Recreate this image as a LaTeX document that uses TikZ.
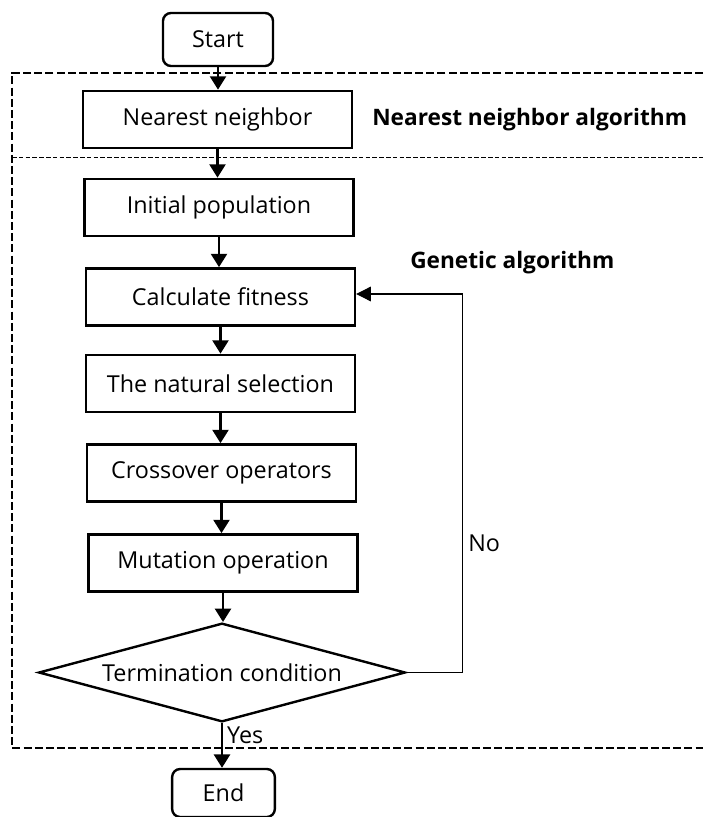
\documentclass[tikz,border=0pt]{standalone}
\usepackage{fontspec}
\setmainfont{Open Sans}
\usetikzlibrary{shapes.geometric,arrows.meta,calc}
\tikzset{
    procbox/.style  = {rectangle, draw=black, line width=1.8pt, minimum width=201.75pt,
                       minimum height=43pt, inner sep=0pt, font=\fontsize{17.5pt}{20pt}\selectfont},
    termbox/.style  = {procbox, rounded corners=6pt},
    decision/.style = {diamond, aspect=3.7, draw=black, line width=1.8pt, minimum width=275pt,
                       minimum height=74pt, inner sep=0pt, font=\fontsize{17.5pt}{20pt}\selectfont},
    flow/.style     = {-{Triangle[length=10pt,width=12pt]}, line width=1.8pt},
    backflow/.style = {-{Triangle[length=11pt,width=11pt]}, line width=0.8pt},
    grouplabel/.style = {font=\fontsize{17pt}{20pt}\selectfont\bfseries, inner sep=0pt},
    smalllabel/.style = {font=\fontsize{17.5pt}{20pt}\selectfont, inner sep=0pt}
}
\begin{document}
\begin{tikzpicture}[x=0.75pt, y=-0.75pt]
        \useasboundingbox (0,0) rectangle (703,817);

        % Group frames
        \draw[line width=1.5pt, dash pattern=on 6pt off 2.4pt] (703,73) -- (12,73) -- (12,748) -- (703,748);
        \draw[line width=0.7pt, dash pattern=on 3.5pt off 1.6pt] (12,157) -- (703,157);

        % Flow chart nodes
        \node[termbox, minimum width=82.5pt, minimum height=39.75pt] (start) at (218,39.5) {Start};
        \node[procbox] (nearest) at (217.5,119.5) {Nearest neighbor};
        \node[procbox] (init)  at (219,207.5) {Initial population};
        \node[procbox] (fit)   at (220.5,297) {Calculate fitness};
        \node[procbox] (sel)   at (220.5,383.5) {The natural selection};
        \node[procbox] (cross) at (221.5,473) {Crossover operators};
        \node[procbox] (mut)   at (223,563) {Mutation operation};
        \node[decision] (term) at (222,672.5) {Termination condition};
        \node[termbox, minimum width=77pt, minimum height=36pt] (end) at (223.5,793) {End};

        % Group labels
        \node[grouplabel, anchor=base west] (nnlabel) at (372,125) {Nearest neighbor algorithm};
        \node[grouplabel, anchor=base west] (galabel) at (410,268) {Genetic algorithm};

        % Main flow
        \foreach \a/\b in {start/nearest, nearest/init, init/fit, fit/sel, sel/cross, cross/mut, mut/term}
            \draw[flow] (\a.south) -- (\a.south |- \b.north);
        \draw[flow] (term.south) -- node[smalllabel, anchor=base west, pos=0.45, xshift=3pt] {Yes} (term.south |- end.north);

        % Loop back when not finished
        \draw[backflow] (term.east) -- ++(56,0) |- node[smalllabel, anchor=base west, pos=0.16, xshift=4pt] {No} ($(fit.east)+(0,-3)$);

    \end{tikzpicture}
\end{document}
